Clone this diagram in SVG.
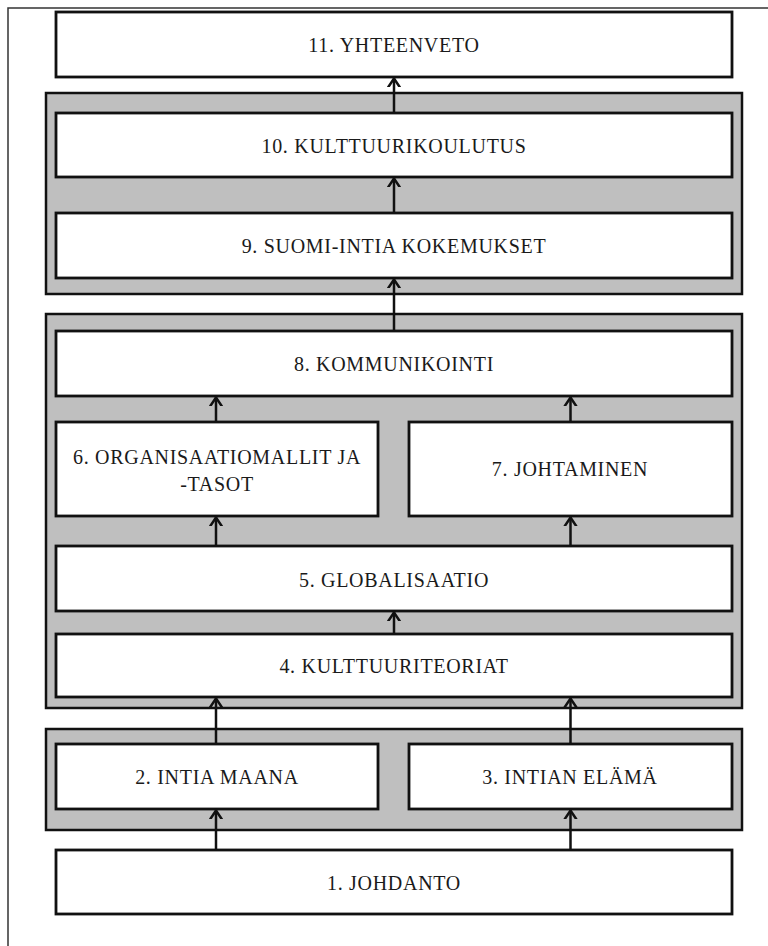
<svg xmlns="http://www.w3.org/2000/svg" width="768" height="946" viewBox="0 0 768 946">
  <style>
    .frame { fill: none; stroke: #333; stroke-width: 1.5; }
    .group { fill: #bfbfbf; stroke: #111; stroke-width: 2.5; }
    .box { fill: #fff; stroke: #111; stroke-width: 2.8; }
    .label { font-family: "Liberation Serif", "Times New Roman", serif; font-size: 20px; letter-spacing: 0.7px; fill: #1a1a1a; text-anchor: middle; }
    .edge { fill: none; stroke: #111; stroke-width: 2.5; marker-end: url(#chevron); }
  </style>
  <defs>
    <marker id="chevron" markerUnits="userSpaceOnUse" viewBox="-8 -8 16 16" markerWidth="16" markerHeight="16" refX="0" refY="0" orient="auto">
      <path d="M -9 -6 L 0 0 L -9 6" fill="none" stroke="#111" stroke-width="2.5"/>
    </marker>
  </defs>

  <rect width="768" height="946" fill="#fff"/>
  <!-- page frame (only top and left edges fall inside the canvas) -->
  <rect class="frame" x="8" y="8" width="820" height="1000"/>

  <!-- grouping panels -->
  <g id="panel-9-10"><rect class="group" x="46" y="93" width="696" height="201"/></g>
  <g id="panel-4-8"><rect class="group" x="46" y="314" width="696" height="394"/></g>
  <g id="panel-2-3"><rect class="group" x="46" y="729" width="696" height="101"/></g>

  <g id="n11"><rect class="box" x="56" y="12" width="676" height="65"/><text class="label" x="394" y="52">11. YHTEENVETO</text></g>
  <g id="n10"><rect class="box" x="56" y="113" width="676" height="64"/><text class="label" x="394" y="153">10. KULTTUURIKOULUTUS</text></g>
  <g id="n9"><rect class="box" x="56" y="213" width="676" height="65"/><text class="label" x="394" y="253">9. SUOMI-INTIA KOKEMUKSET</text></g>
  <g id="n8"><rect class="box" x="56" y="331" width="676" height="65"/><text class="label" x="394" y="371">8. KOMMUNIKOINTI</text></g>
  <g id="n6"><rect class="box" x="56" y="422" width="322" height="94"/><text class="label" x="217" y="464">6. ORGANISAATIOMALLIT JA</text><text class="label" x="217" y="491">-TASOT</text></g>
  <g id="n7"><rect class="box" x="409" y="422" width="323" height="94"/><text class="label" x="570" y="476">7. JOHTAMINEN</text></g>
  <g id="n5"><rect class="box" x="56" y="546" width="676" height="65"/><text class="label" x="394" y="587">5. GLOBALISAATIO</text></g>
  <g id="n4"><rect class="box" x="56" y="634" width="676" height="63"/><text class="label" x="394" y="673">4. KULTTUURITEORIAT</text></g>
  <g id="n2"><rect class="box" x="56" y="744" width="322" height="65"/><text class="label" x="217" y="784">2. INTIA MAANA</text></g>
  <g id="n3"><rect class="box" x="409" y="744" width="323" height="65"/><text class="label" x="570" y="784">3. INTIAN ELÄMÄ</text></g>
  <g id="n1"><rect class="box" x="56" y="850" width="676" height="64"/><text class="label" x="394" y="890">1. JOHDANTO</text></g>

  <g id="connectors">
    <path class="edge" d="M394 113 V78.5"/>
    <path class="edge" d="M394 213 V178.5"/>
    <path class="edge" d="M394 331 V279.5"/>
    <path class="edge" d="M216 422 V397.5"/>
    <path class="edge" d="M570.5 422 V397.5"/>
    <path class="edge" d="M216 546 V517.5"/>
    <path class="edge" d="M570.5 546 V517.5"/>
    <path class="edge" d="M394 634 V612.5"/>
    <path class="edge" d="M216 744 V698.5"/>
    <path class="edge" d="M570.5 744 V698.5"/>
    <path class="edge" d="M216 850 V810.5"/>
    <path class="edge" d="M570.5 850 V810.5"/>
  </g>
</svg>
